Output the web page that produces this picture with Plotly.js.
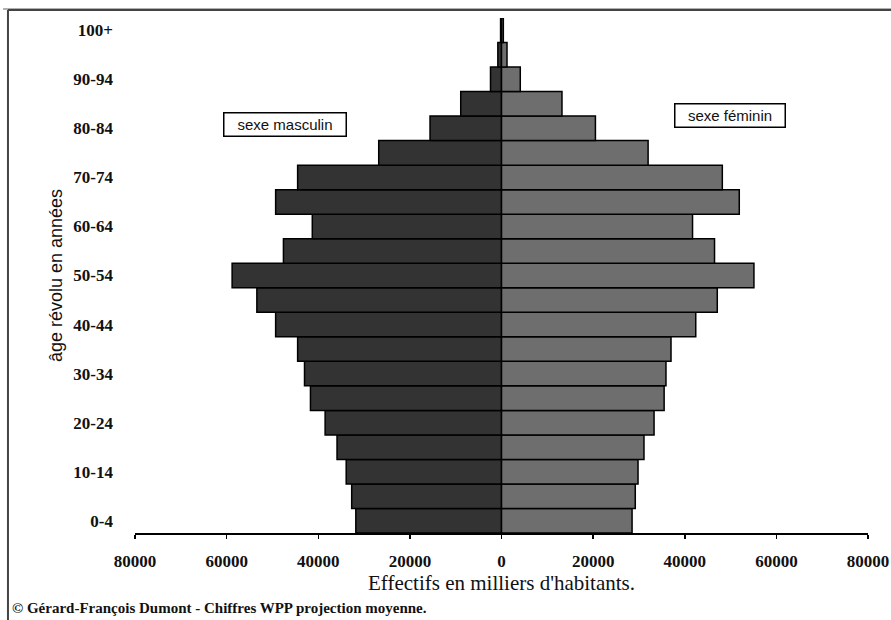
<!DOCTYPE html>
<html>
<head>
<meta charset="utf-8">
<script src="https://cdn.plot.ly/plotly-3.0.1.min.js"></script>
<style>html,body{margin:0;padding:0;background:#fff;}#chart{width:891px;height:620px;}</style>
</head>
<body>
<div id="chart"></div>
<script>
const ageGroups = ['0-4','5-9','10-14','15-19','20-24','25-29','30-34','35-39','40-44','45-49','50-54','55-59','60-64','65-69','70-74','75-79','80-84','85-89','90-94','95-99','100+'];
const maleValues = [31800, 32700, 33900, 35900, 38500, 41700, 43000, 44500, 49300, 53400, 58800, 47600, 41300, 49300, 44500, 26800, 15600, 8900, 2400, 800, 200];
const femaleValues = [28500, 29200, 29800, 31100, 33300, 35500, 35900, 37000, 42400, 47100, 55100, 46500, 41700, 51900, 48200, 32000, 20500, 13200, 4100, 1200, 400];
const shownAgeLabels = ['0-4','10-14','20-24','30-34','40-44','50-54','60-64','70-74','80-84','90-94','100+'];
const xTickValues = [-80000,-60000,-40000,-20000,0,20000,40000,60000,80000];
const xTickText = ['80000','60000','40000','20000','0','20000','40000','60000','80000'];

const serif = '"Liberation Serif", "Times New Roman", serif';
const sans = '"Liberation Sans", Arial, sans-serif';

const traces = [
  {
    type: 'bar', orientation: 'h', name: 'sexe masculin',
    y: ageGroups, x: maleValues.map(v => -v),
    marker: {color: '#333333', line: {color: '#000', width: 1.5}},
    hoverinfo: 'skip'
  },
  {
    type: 'bar', orientation: 'h', name: 'sexe féminin',
    y: ageGroups, x: femaleValues,
    marker: {color: '#6e6e6e', line: {color: '#000', width: 1.5}},
    hoverinfo: 'skip'
  }
];

const layout = {
  width: 891, height: 620,
  margin: {l: 135, r: 23, t: 18, b: 87},
  paper_bgcolor: '#fff', plot_bgcolor: '#fff',
  barmode: 'relative', bargap: 0,
  showlegend: false,
  xaxis: {
    range: [-80000, 80000],
    tickvals: xTickValues, ticktext: xTickText,
    showline: true, linecolor: '#000', linewidth: 1.5,
    ticks: 'outside', ticklen: 4, tickwidth: 1.5, tickcolor: '#000',
    ticklabelstandoff: 8,
    showgrid: false, zeroline: false,
    tickfont: {family: serif, size: 17, color: '#111', weight: 'bold'},
    title: {text: "Effectifs en milliers d'habitants.", font: {family: serif, size: 21, color: '#111'}, standoff: 3}
  },
  yaxis: {
    type: 'category', range: [-0.5, 20.5],
    tickvals: shownAgeLabels, ticktext: shownAgeLabels,
    showline: false, showgrid: false, zeroline: false,
    ticks: '', ticklabelstandoff: 21,
    tickfont: {family: serif, size: 17, color: '#111', weight: 'bold'},
    title: {text: 'âge révolu en années', font: {family: sans, size: 18, color: '#111'}, standoff: 6}
  },
  annotations: [
    {xref: 'paper', yref: 'paper', x: 0.204, y: 0.794, xanchor: 'center', yanchor: 'middle',
     text: 'sexe masculin', showarrow: false, align: 'center', width: 119, height: 20,
     bordercolor: '#000', borderwidth: 1.5, bgcolor: '#fff', borderpad: 1,
     font: {family: sans, size: 15, color: '#111'}},
    {xref: 'paper', yref: 'paper', x: 0.8124, y: 0.811, xanchor: 'center', yanchor: 'middle',
     text: 'sexe féminin', showarrow: false, align: 'center', width: 107, height: 20,
     bordercolor: '#000', borderwidth: 1.5, bgcolor: '#fff', borderpad: 1,
     font: {family: sans, size: 15, color: '#111'}},
    {xref: 'paper', yref: 'paper', x: -0.1705, y: -0.1456, xanchor: 'left', yanchor: 'middle',
     text: '© Gérard-François Dumont - Chiffres WPP projection moyenne.', showarrow: false,
     font: {family: serif, size: 15, color: '#111', weight: 'bold'}}
  ],
  shapes: [
    {type: 'line', xref: 'paper', yref: 'paper', x0: -0.18, x1: 1.04, y0: 1.0175, y1: 1.0175, line: {color: '#b0b0b0', width: 2}},
    {type: 'line', xref: 'paper', yref: 'paper', x0: -0.1733, x1: 1.04, y0: 1.0155, y1: 1.0155, line: {color: '#444', width: 2}},
    {type: 'line', xref: 'paper', yref: 'paper', x0: -0.1733, x1: -0.1733, y0: 1.0155, y1: -0.2, line: {color: '#444', width: 2}}
  ]
};

Plotly.newPlot('chart', traces, layout, {displayModeBar: false, staticPlot: true});
</script>
</body>
</html>
